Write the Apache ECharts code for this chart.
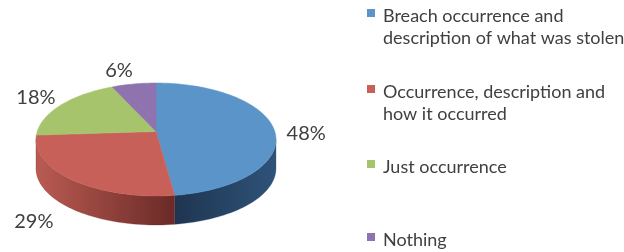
<!DOCTYPE html>
<html>
<head>
<meta charset="utf-8">
<script src="https://cdn.jsdelivr.net/npm/echarts@6/dist/echarts.min.js"></script>
<style>
  html, body { margin: 0; padding: 0; background: #fff; }
  #chart { width: 624px; height: 252px; }
</style>
</head>
<body>
<div id="chart"></div>
<script>
// 数据
const categories = [
  'Breach occurrence and\ndescription of what was stolen',
  'Occurrence, description and\nhow it occurred',
  'Just occurrence',
  'Nothing'
];
const values = [48, 29, 18, 6];

// 样式
const topColors = ['#5B94C9', '#C8605A', '#A6C46B', '#8F73AE'];
const sideColors = [['#1F3550', '#2E5379'], ['#BA5B52', '#6A2A27'], ['#7F9A4E', '#5D7436'], ['#6A5485', '#4E3D63']];
const legendCenters = [13, 89, 164, 237];

const cx = 156, cy = 139.5, rx = 120, ry = 56.5, depth = 29, apexLift = 8;
const lineH = 22;
const total = values.reduce((a, b) => a + b, 0);

// 椭圆上的点，角度从正上方顺时针
function pt(deg, dy) {
  const r = deg * Math.PI / 180;
  return [cx + rx * Math.sin(r), cy - ry * Math.cos(r) + (dy || 0)];
}

function arc(a0, a1, dy) {
  const pts = [];
  const n = Math.max(2, Math.ceil((a1 - a0) / 2));
  for (let k = 0; k <= n; k++) pts.push(pt(a0 + (a1 - a0) * k / n, dy));
  return pts;
}

function makeRender(i) {
  return function(params, api) {
    const v = api.value(0);
    let start = 0;
    for (let k = 0; k < i; k++) start += values[k];
    const a0 = start / total * 360;
    const a1 = (start + v) / total * 360;
    const children = [];
    // 侧面（只画前半圈）
    const s0 = Math.max(a0, 90), s1 = Math.min(a1, 270);
    if (s1 > s0) {
      const top = arc(s0, s1, 0);
      const bottom = arc(s0, s1, depth).reverse();
      children.push({
        type: 'polygon',
        shape: { points: top.concat(bottom) },
        style: {
          fill: {
            type: 'linear', x: 0, y: 0, x2: 1, y2: 0,
            colorStops: [
              { offset: 0, color: sideColors[i][0] },
              { offset: 1, color: sideColors[i][1] }
            ]
          },
          stroke: sideColors[i][1],
          lineWidth: 0.3
        }
      });
    }
    // 顶面
    const face = [[cx, cy - apexLift]].concat(arc(a0, a1, 0));
    children.push({
      type: 'polygon',
      shape: { points: face },
      style: { fill: topColors[i], stroke: topColors[i], lineWidth: 0.5 }
    });
    // 标签
    const mid = (a0 + a1) / 2;
    const r = mid * Math.PI / 180;
    const s = Math.sin(r), c = Math.cos(r);
    const rim = pt(mid, c < 0 ? depth : 0);
    const dx = c < 0 ? 31 * s : (s > 0 ? 11 : 5) * s;
    const dy = c < 0 ? -16 * c : -14 * c;
    children.push({
      type: 'text',
      x: rim[0] + dx,
      y: rim[1] + dy,
      style: {
        text: v + '%',
        fontFamily: 'Lato',
        fontSize: 20,
        fill: '#404040',
        align: s >= 0 ? 'left' : 'right',
        verticalAlign: 'middle'
      }
    });
    return { type: 'group', children: children };
  };
}

const chart = echarts.init(document.getElementById('chart'));
chart.setOption({
  animation: false,
  legend: categories.map(function(name, i) {
    const lines = name.split('\n').length;
    // 多行时前面加一个空行，让图标对齐第一行
    const shown = lines > 1 ? '\n' + name : name;
    const half = shown.split('\n').length * lineH / 2;
    return {
      data: [name],
      orient: 'vertical',
      left: 367,
      top: legendCenters[i] + 3 - half,
      padding: 0,
      itemWidth: 8,
      itemHeight: 14,
      // 方块在上方，文字比方块低一点
      icon: 'path://M0,0H8V8H0ZM0,14H8',
      selectedMode: false,
      formatter: function() { return shown; },
      textStyle: {
        fontFamily: 'Lato',
        fontSize: 18,
        color: '#404040',
        lineHeight: lineH,
        padding: [0, 0, 0, 3]
      }
    };
  }),
  series: categories.map(function(name, i) {
    return {
      type: 'custom',
      name: name,
      coordinateSystem: 'none',
      itemStyle: { color: topColors[i] },
      data: [[values[i]]],
      renderItem: makeRender(i)
    };
  })
});
</script>
</body>
</html>
